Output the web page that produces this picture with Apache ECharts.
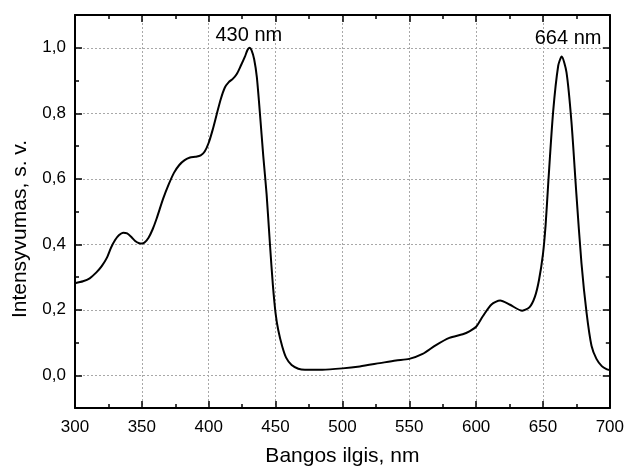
<!DOCTYPE html>
<html>
<head>
<meta charset="utf-8">
<script src="https://cdn.jsdelivr.net/npm/echarts@6/dist/echarts.min.js"></script>
<style>html,body{margin:0;padding:0;background:#fff;}#c{width:627px;height:472px;}</style>
</head>
<body>
<div id="c"></div>
<script>
const wavelengths = [300,306,311,316,320,324,327,330,333,336,339,342,345,348,350,352,355,358,361,366,370,374,378,382,386,390,394,397,400,403,406,409,412,415,418,421,424,427,429,430.5,432,434,436,438.3,440.8,443.3,445.8,448,450,452,455,458,462,467,472,485,500,513,528,540,550,560,570,580,590,595,600,605,611.5,618,625,634.5,640,644,647,650,652,654,657.6,661.4,664,667.6,671.3,675,678.8,682.6,686.3,690,694,697.5,700];
const intensity = [0.281,0.287,0.296,0.314,0.333,0.36,0.39,0.413,0.428,0.435,0.433,0.423,0.41,0.403,0.402,0.405,0.42,0.445,0.478,0.54,0.582,0.618,0.642,0.657,0.665,0.667,0.671,0.683,0.71,0.75,0.797,0.843,0.878,0.895,0.905,0.92,0.945,0.972,0.993,1.0,0.993,0.965,0.91,0.80,0.67,0.553,0.40,0.275,0.19,0.138,0.088,0.053,0.031,0.02,0.017,0.017,0.021,0.027,0.037,0.045,0.05,0.065,0.092,0.114,0.125,0.134,0.148,0.18,0.216,0.228,0.216,0.197,0.208,0.24,0.29,0.37,0.46,0.59,0.804,0.945,0.973,0.925,0.774,0.553,0.342,0.191,0.09,0.05,0.028,0.019,0.016];
const yTickValues = [0, 0.2, 0.4, 0.6, 0.8, 1.0];
const peakLabels = [{text:'430 nm', x:430, y:1.038},{text:'664 nm', x:668.8, y:1.029}];
const yTitle = 'Intensyvumas, s. v.';
const xTitle = 'Bangos ilgis, nm';

const FONT = 'Liberation Sans, Arial, sans-serif';
const fmt = v => v.toFixed(1).replace('.', ',');
const gridLine = {show:true, lineStyle:{color:'#a8a8a8', type:[2,2], width:1}};
const axLine = {show:true, onZero:false, lineStyle:{color:'#000', width:2}};

const chart = echarts.init(document.getElementById('c'), null, {renderer:'canvas'});
const xBase = {
  type:'value', min:300, max:700, interval:50,
  axisLine: axLine,
  axisTick:{show:true, inside:true, length:7, lineStyle:{color:'#000', width:1.5}},
  minorTick:{show:true, splitNumber:2, length:4, lineStyle:{color:'#000', width:1.5}},
  splitLine: gridLine
};
const yMajor = {
  type:'value', min:-0.1, max:1.1, interval:0.1,
  axisLine: axLine,
  axisTick:{show:true, inside:true, length:7, customValues:yTickValues, lineStyle:{color:'#000', width:1.5}},
  splitLine:{show:false}
};
const yMinor = {
  type:'value', min:-0.1, max:1.1, interval:0.1,
  axisLine:{show:false, onZero:false},
  axisTick:{show:true, inside:true, length:4, lineStyle:{color:'#000', width:1.5}},
  axisLabel:{show:false},
  splitLine:{show:false}
};
chart.setOption({
  animation:false,
  backgroundColor:'#fff',
  grid:{left:75, right:17, top:15, bottom:59, containLabel:false},
  graphic:[{
    type:'text', rotation:Math.PI/2, x:20, y:229,
    style:{text:yTitle, fontFamily:FONT, fontSize:21, fill:'#000', align:'center', verticalAlign:'middle'}
  }],
  xAxis:[
    Object.assign({}, xBase, {
      position:'bottom',
      name:xTitle, nameLocation:'middle', nameGap:38,
      nameTextStyle:{fontFamily:FONT, fontSize:21, color:'#000'},
      axisLabel:{show:true, margin:11, fontFamily:FONT, fontSize:17, color:'#000'}
    }),
    Object.assign({}, xBase, {position:'top', axisLabel:{show:false}, splitLine:{show:false}})
  ],
  yAxis:[
    Object.assign({}, yMajor, {
      position:'left',
      axisLabel:{show:true, customValues:yTickValues, margin:9, fontFamily:FONT, fontSize:17, color:'#000', formatter:fmt},
      splitLine: gridLine
    }),
    Object.assign({}, yMinor, {position:'left'}),
    Object.assign({}, yMajor, {position:'right', axisLabel:{show:false}}),
    Object.assign({}, yMinor, {position:'right'})
  ],
  series:[{
    type:'line',
    xAxisIndex:0, yAxisIndex:0,
    data: wavelengths.map((w,i)=>[w, intensity[i]]),
    smooth:0.25,
    showSymbol:false,
    lineStyle:{color:'#000', width:2},
    markPoint:{
      silent:true,
      symbol:'circle', symbolSize:0,
      label:{show:true, position:'inside', fontFamily:FONT, fontSize:20, color:'#000', formatter: p => p.name},
      data: peakLabels.map(p => ({name:p.text, coord:[p.x, p.y]}))
    }
  }]
});
</script>
</body>
</html>
